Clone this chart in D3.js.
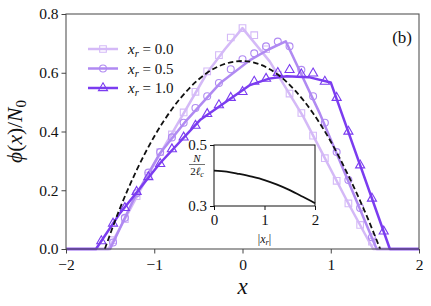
<!DOCTYPE html>
<html>
<head>
<meta charset="utf-8">
<script src="https://cdn.jsdelivr.net/npm/d3@7"></script>
<style>
  body { margin: 0; background: #fff; }
  svg { display: block; }
  text { font-family: "Liberation Serif", "DejaVu Serif", serif; fill: #111; }
  .it { font-style: italic; }
</style>
</head>
<body>
<div id="chart"></div>
<script>
////////////////////////////  Data  ////////////////////////////
// theory lines (x, phi/N0) for each x_r
const lineX0 = [-2, -1.52, -1.3, -1.0, -0.7, -0.4, -0.2, 0, 0.31, 0.69, 0.88, 1.2, 1.48, 2];
const lineY0 = [0, 0, 0.12, 0.29, 0.445, 0.6, 0.68, 0.752, 0.638, 0.45, 0.34, 0.155, 0, 0];
const lineX05 = [-2, -1.5, -1.237, -0.935, -0.632, -0.255, 0.085, 0.3, 0.49, 0.878, 1.2, 1.52, 2];
const lineY05 = [0, 0, 0.167, 0.326, 0.439, 0.564, 0.643, 0.68, 0.707, 0.46, 0.23, 0, 0];
const lineX1 = [-2, -1.66, -1.388, -0.935, -0.482, 0.085, 0.3, 0.5, 0.75, 1.0, 1.67, 2];
const lineY1 = [0, 0, 0.122, 0.292, 0.439, 0.558, 0.58, 0.588, 0.585, 0.567, 0, 0];

// dashed reference profile
const dashX = [-1.56, -1.4, -1.2, -1.0, -0.8, -0.6, -0.4, -0.2, 0, 0.2, 0.4, 0.6, 0.8, 1.0, 1.2, 1.4, 1.56];
const dashY = [0, 0.13, 0.268, 0.383, 0.476, 0.548, 0.6, 0.63, 0.64, 0.628, 0.594, 0.538, 0.462, 0.366, 0.25, 0.118, 0];

// simulation markers
const markX = [-1.6, -1.467, -1.333, -1.2, -1.067, -0.933, -0.8, -0.667, -0.533, -0.4, -0.267, -0.133,
  0, 0.133, 0.267, 0.4, 0.533, 0.667, 0.8, 0.933, 1.067, 1.2, 1.333, 1.467, 1.6];
const markY0 = [null, 0.03, 0.102, 0.18, 0.25, 0.33, 0.39, 0.465, 0.535, 0.605, 0.66, 0.72,
  0.752, 0.728, 0.68, 0.594, 0.529, 0.463, 0.386, 0.309, 0.232, 0.155, 0.082, 0.025, null];
const markY05 = [null, 0.022, 0.106, 0.19, 0.26, 0.33, 0.38, 0.43, 0.48, 0.52, 0.565, 0.612,
  0.646, 0.666, 0.69, 0.706, 0.69, 0.61, 0.52, 0.43, 0.33, 0.235, 0.14, 0.04, null];
const markY1 = [0.027, 0.087, 0.14, 0.195, 0.245, 0.29, 0.34, 0.38, 0.42, 0.46, 0.49, 0.515,
  0.535, 0.57, 0.58, 0.6, 0.61, 0.595, 0.598, 0.57, 0.515, 0.4, 0.285, 0.172, 0.06];

const seriesNames = ["0.0", "0.5", "1.0"];
const seriesColors = ["#d4b9f7", "#b08af2", "#7b3cf0"];
const seriesSymbols = [d3.symbolSquare, d3.symbolCircle, d3.symbolTriangle];

// inset: N / (2 l_c) vs |x_r|
const insetX = [0, 0.25, 0.5, 0.75, 1.0, 1.25, 1.5, 1.75, 2.0];
const insetY = [0.416, 0.413, 0.405, 0.396, 0.385, 0.37, 0.352, 0.331, 0.309];

const xTicks = [-2, -1, 0, 1, 2];
const yTicks = [0.0, 0.2, 0.4, 0.6, 0.8];

////////////////////////////  Setup  ////////////////////////////
const width = 431, height = 306;
const margin = { top: 14, right: 12, bottom: 57, left: 66 };

const svg = d3.select("#chart").append("svg")
  .attr("width", width).attr("height", height);

const x = d3.scaleLinear().domain([-2, 2]).range([margin.left, width - margin.right]);
const y = d3.scaleLinear().domain([0, 0.8]).range([height - margin.bottom, margin.top]);

const zip = (xs, ys) => xs.map((d, i) => [d, ys[i]]);

const line = d3.line().x((d) => x(d[0])).y((d) => y(d[1]));

const lines = [zip(lineX0, lineY0), zip(lineX05, lineY05), zip(lineX1, lineY1)];
const marks = [markY0, markY05, markY1].map((ys) =>
  zip(markX, ys).filter((d) => d[1] !== null));

const symSize = [44, 38, 36];

// clip
svg.append("clipPath").attr("id", "clip")
  .append("rect")
  .attr("x", margin.left).attr("y", margin.top - 2)
  .attr("width", x(2) - x(-2)).attr("height", y(0) - y(0.8) + 4);

const plot = svg.append("g").attr("clip-path", "url(#clip)");

// lines + markers
lines.forEach((pts, i) => {
  plot.append("path")
    .datum(pts)
    .attr("d", line)
    .attr("fill", "none")
    .attr("stroke", seriesColors[i])
    .attr("stroke-width", 2.5)
    .attr("stroke-linejoin", "round");

  plot.selectAll(null)
    .data(marks[i])
    .enter()
    .append("path")
    .attr("transform", (d) => `translate(${x(d[0])},${y(d[1])})`)
    .attr("d", d3.symbol().type(seriesSymbols[i]).size(symSize[i]))
    .attr("fill", "none")
    .attr("stroke", seriesColors[i])
    .attr("stroke-width", 1.1);
});

plot.append("path")
  .datum(zip(dashX, dashY))
  .attr("d", d3.line().x((d) => x(d[0])).y((d) => y(d[1])).curve(d3.curveMonotoneX))
  .attr("fill", "none")
  .attr("stroke", "#111")
  .attr("stroke-width", 1.8)
  .attr("stroke-dasharray", "5.5,3");

// frame
svg.append("rect")
  .attr("x", x(-2)).attr("y", y(0.8))
  .attr("width", x(2) - x(-2)).attr("height", y(0) - y(0.8))
  .attr("fill", "none").attr("stroke", "#555").attr("stroke-width", 1.1);

// x axis
const xAxis = svg.append("g").attr("transform", `translate(0,${y(0)})`);
xAxis.call(d3.axisBottom(x).tickValues(d3.range(-2, 2.01, 0.2)).tickSize(2.5).tickFormat(""));
xAxis.call(d3.axisBottom(x).tickValues(xTicks).tickSize(4.5)
  .tickFormat((d) => d < 0 ? "\u2212" + Math.abs(d) : d));
xAxis.selectAll(".domain").remove();
xAxis.selectAll("line").attr("stroke", "#444");
xAxis.selectAll("text").attr("font-size", 15.5).attr("dy", "0.9em").attr("fill", "#111")
  .style("font-family", "Liberation Serif");

// y axis
const yAxis = svg.append("g").attr("transform", `translate(${x(-2)},0)`);
yAxis.call(d3.axisLeft(y).tickValues(d3.range(0, 0.81, 0.1)).tickSize(2.5).tickFormat(""));
yAxis.call(d3.axisLeft(y).tickValues(yTicks).tickSize(4.5).tickFormat(d3.format(".1f")));
yAxis.selectAll(".domain").remove();
yAxis.selectAll("line").attr("stroke", "#444");
yAxis.selectAll("text").attr("font-size", 15.5).attr("fill", "#111")
  .style("font-family", "Liberation Serif");

// axis labels
svg.append("text")
  .attr("x", x(0)).attr("y", 294)
  .attr("text-anchor", "middle")
  .attr("font-size", 23).attr("class", "it")
  .text("x");

const yl = svg.append("text")
  .attr("transform", `translate(22,${(y(0) + y(0.8)) / 2}) rotate(-90)`)
  .attr("text-anchor", "middle")
  .attr("font-size", 21.5);
yl.append("tspan").attr("class", "it").text("\u03d5");
yl.append("tspan").text("(");
yl.append("tspan").attr("class", "it").text("x");
yl.append("tspan").text(")/");
yl.append("tspan").attr("class", "it").text("N");
yl.append("tspan").attr("font-size", 15).attr("dy", 4).text("0");

// panel tag
svg.append("text")
  .attr("x", 412).attr("y", 43)
  .attr("text-anchor", "end")
  .attr("font-size", 17)
  .text("(b)");

// legend
const legend = svg.append("g");
seriesNames.forEach((name, i) => {
  const ly = 49 + i * 19.5;
  legend.append("line")
    .attr("x1", 88).attr("x2", 118).attr("y1", ly).attr("y2", ly)
    .attr("stroke", seriesColors[i]).attr("stroke-width", 2.5);
  legend.append("path")
    .attr("transform", `translate(103,${ly})`)
    .attr("d", d3.symbol().type(seriesSymbols[i]).size(symSize[i]))
    .attr("fill", "none").attr("stroke", seriesColors[i]).attr("stroke-width", 1.1);
  const t = legend.append("text")
    .attr("x", 128).attr("y", ly + 5)
    .attr("font-size", 15);
  t.append("tspan").attr("class", "it").text("x");
  t.append("tspan").attr("class", "it").attr("font-size", 10.5).attr("dy", 3).text("r");
  t.append("tspan").attr("dy", -3).text(" = " + name);
});

////////////////////////////  Inset  ////////////////////////////
const ix = d3.scaleLinear().domain([0, 2]).range([214, 315]);
const iy = d3.scaleLinear().domain([0.3, 0.5]).range([206, 145]);

svg.append("rect")
  .attr("x", ix(0)).attr("y", iy(0.5))
  .attr("width", ix(2) - ix(0)).attr("height", iy(0.3) - iy(0.5))
  .attr("fill", "#fff").attr("stroke", "#111").attr("stroke-width", 1);

svg.append("path")
  .datum(zip(insetX, insetY))
  .attr("d", d3.line().x((d) => ix(d[0])).y((d) => iy(d[1])).curve(d3.curveMonotoneX))
  .attr("fill", "none").attr("stroke", "#111").attr("stroke-width", 1.8);

const ixAxis = svg.append("g").attr("transform", `translate(0,${iy(0.3)})`)
  .call(d3.axisBottom(ix).tickValues([0, 1, 2]).tickSize(4).tickFormat(d3.format("d")));
ixAxis.select(".domain").remove();
ixAxis.selectAll("line").attr("stroke", "#111");
ixAxis.selectAll("text").attr("font-size", 15).attr("dy", "0.8em").attr("fill", "#111")
  .style("font-family", "Liberation Serif");

const iyAxis = svg.append("g").attr("transform", `translate(${ix(0)},0)`)
  .call(d3.axisLeft(iy).tickValues([0.3, 0.5]).tickSize(4).tickFormat(d3.format(".1f")));
iyAxis.select(".domain").remove();
iyAxis.selectAll("line").attr("stroke", "#111");
iyAxis.selectAll("text").attr("font-size", 15).attr("fill", "#111")
  .style("font-family", "Liberation Serif");

// inset labels
const ixl = svg.append("text")
  .attr("x", ix(1)).attr("y", 243)
  .attr("text-anchor", "middle").attr("font-size", 12);
ixl.append("tspan").text("|");
ixl.append("tspan").attr("class", "it").text("x");
ixl.append("tspan").attr("class", "it").attr("font-size", 8.5).attr("dy", 2).text("r");
ixl.append("tspan").attr("dy", -2).text("|");

svg.append("text")
  .attr("x", 197).attr("y", 162)
  .attr("text-anchor", "middle").attr("font-size", 11).attr("class", "it")
  .text("N");
svg.append("line")
  .attr("x1", 189).attr("x2", 205).attr("y1", 164.5).attr("y2", 164.5)
  .attr("stroke", "#111").attr("stroke-width", 0.6);
const den = svg.append("text")
  .attr("x", 197).attr("y", 174.5)
  .attr("text-anchor", "middle").attr("font-size", 11);
den.append("tspan").text("2");
den.append("tspan").attr("class", "it").text("\u2113");
den.append("tspan").attr("class", "it").attr("font-size", 8).attr("dy", 2).text("c");
</script>
</body>
</html>
